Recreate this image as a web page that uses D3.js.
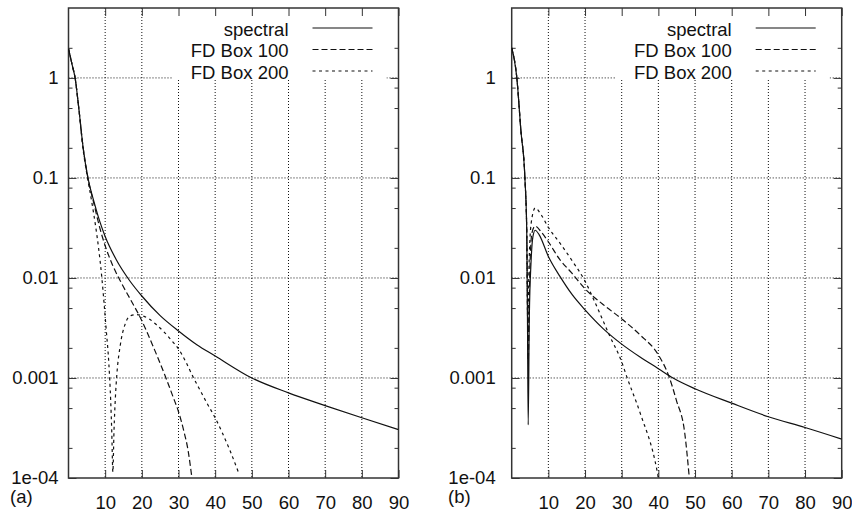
<!DOCTYPE html>
<html>
<head>
<meta charset="utf-8">
<script src="https://cdn.jsdelivr.net/npm/d3@7"></script>
<style>
body { margin: 0; background: #fff; }
svg { font-family: "Liberation Sans", Arial, sans-serif; }
</style>
</head>
<body>
<div id="chart"></div>
<script>
const FWIDTH = 852, FHEIGHT = 513;
const PANEL = { TOP: 8, BOTTOM: 478, WIDTH: 330 };
const PANEL_LEFT = [68.5, 511.7];
const LABEL_PAD = [10, 16];
const LETTER_X = [10, 448];
const FONT = 18.5;

// axes
const xDomain = [0, 90];
const yDomain = [1e-4, 5];
const xTicks = [10, 20, 30, 40, 50, 60, 70, 80, 90];
const xGrid = [10, 20, 30, 40, 50, 60, 70, 80];
const yTicks = [1e-4, 1e-3, 1e-2, 1e-1, 1];
const yTickLabels = ["1e-04", "0.001", "0.01", "0.1", "1"];
const yGrid = [1e-3, 1e-2, 1e-1, 1];
const yMinorMant = [2, 5, 8];
const legendLabels = ["spectral", "FD Box 100", "FD Box 200"];
const panelLabels = ["(a)", "(b)"];

// panel (a)
const spectralA = [[0, 1.95], [1, 1.35], [1.8, 1.0], [2.8, 0.5], [4, 0.2], [5.3, 0.1], [7, 0.057],
	[8.5, 0.037], [10, 0.026], [13, 0.0153], [16.5, 0.0096], [20, 0.0066], [25, 0.0042],
	[30, 0.00295], [35, 0.00215], [40, 0.00166], [50, 0.001], [60, 0.00071], [70, 0.00053],
	[80, 0.0004], [90, 0.000305]];
const fd100A = [[0, 1.95], [1, 1.35], [1.8, 1.0], [2.8, 0.5], [4, 0.2], [5.3, 0.1], [7, 0.054],
	[8.5, 0.032], [10, 0.021], [12, 0.0135], [14.5, 0.0088], [17, 0.006], [19.6, 0.004],
	[23, 0.0021], [26.4, 0.00104], [28.5, 0.00065], [30, 0.00046], [31.5, 0.00029],
	[32.6, 0.00019], [33.6, 0.000104]];
const fd200A = [[0, 1.95], [1, 1.35], [1.8, 1.0], [2.8, 0.5], [4, 0.19], [5, 0.11], [6.4, 0.056],
	[7.5, 0.031], [8.2, 0.02], [9.1, 0.01], [9.7, 0.0056], [10.3, 0.003], [11, 0.0014],
	[11.5, 0.0006], [11.8, 0.00029], [12.1, 0.000115], [12.4, 0.00029], [12.8, 0.00065],
	[13.2, 0.0011], [14.1, 0.0021], [15.5, 0.0035], [17, 0.0042], [18.5, 0.0043], [20, 0.0042],
	[22, 0.0039], [24, 0.0034], [26, 0.0029], [28, 0.0024], [30, 0.00195], [32, 0.00145],
	[34, 0.00102], [36, 0.00074], [38, 0.00054], [40, 0.0004], [42, 0.00028], [44, 0.00019],
	[46.5, 0.00011]];

// panel (b)
const spectralB = [[0, 2], [1.4, 1], [2.5, 0.3], [3.6, 0.1], [4.1, 0.03], [4.3, 0.004],
	[4.5, 0.00034], [4.8, 0.004], [5.3, 0.015], [5.8, 0.026], [6.4, 0.03], [7.5, 0.027],
	[10, 0.0164], [13.2, 0.0103], [16.5, 0.0068], [20, 0.0048], [25, 0.0031], [30, 0.00218],
	[35, 0.00162], [40, 0.00124], [44, 0.001], [50, 0.00078], [60, 0.00056], [70, 0.00041],
	[80, 0.00032], [90, 0.000245]];
const fd100B = [[0, 2], [1.4, 1], [2.5, 0.3], [3.6, 0.1], [4.1, 0.03], [4.5, 0.0015],
	[4.9, 0.01], [5.5, 0.028], [6.4, 0.033], [8, 0.029], [10, 0.023], [13, 0.0155],
	[16.3, 0.0113], [20, 0.0078], [25, 0.0054], [30, 0.0039], [35, 0.0027], [40, 0.0017],
	[42.7, 0.00108], [44.9, 0.0006], [47.2, 0.00028], [48.4, 0.000104]];
const fd200B = [[0, 2], [1.4, 1], [2.5, 0.3], [3.6, 0.1], [4.1, 0.03], [4.4, 0.003],
	[4.7, 0.012], [5.3, 0.035], [6.4, 0.05], [8, 0.043], [10, 0.032], [13.2, 0.0222],
	[16.3, 0.0152], [20, 0.0093], [23.2, 0.0052], [26.8, 0.0026], [30, 0.00145], [31.3, 0.00105],
	[35, 0.00045], [39.6, 0.00012], [40, 0.0001]];

const panels = [[spectralA, fd100A, fd200A], [spectralB, fd100B, fd200B]];
const dashes = [null, "6,3", "3,3.5"];

const svg = d3.select("#chart").append("svg")
	.attr("width", FWIDTH)
	.attr("height", FHEIGHT);

const H = PANEL.BOTTOM - PANEL.TOP;

panels.forEach((series, p) => {
	const g = svg.append("g")
		.attr("transform", `translate(${PANEL_LEFT[p]}, ${PANEL.TOP})`);

	const x = d3.scaleLinear().domain(xDomain).range([0, PANEL.WIDTH]);
	const y = d3.scaleLog().domain(yDomain).range([H, 0]);

	// grid
	g.append("g").selectAll("line").data(xGrid).enter().append("line")
		.attr("x1", d => x(d)).attr("x2", d => x(d))
		.attr("y1", 0).attr("y2", H)
		.attr("stroke", "#111").attr("stroke-dasharray", "1,2");
	g.append("g").selectAll("line").data(yGrid).enter().append("line")
		.attr("x1", 0).attr("x2", PANEL.WIDTH)
		.attr("y1", d => y(d)).attr("y2", d => y(d))
		.attr("stroke", "#111").attr("stroke-dasharray", "1,2");

	// legend background hides the grid
	g.append("rect")
		.attr("x", 104).attr("y", 0)
		.attr("width", 214).attr("height", 72)
		.attr("fill", "#fff");

	const minor = [];
	yTicks.forEach(t => yMinorMant.forEach(m => { if (m * t < 4.9) minor.push(m * t); }));

	const clean = sel => { sel.select(".domain").remove(); sel.selectAll("line").attr("stroke", "#333"); };

	g.append("g")
		.attr("transform", `translate(0, ${H})`)
		.call(d3.axisBottom(x).tickValues(xTicks).tickSizeInner(-8).tickSizeOuter(0).tickPadding(18))
		.call(clean)
		.selectAll("text").attr("font-size", FONT).attr("fill", "#111").attr("font-family", null);
	g.append("g")
		.call(d3.axisTop(x).tickValues(xTicks).tickSizeInner(-8).tickSizeOuter(0).tickFormat(""))
		.call(clean);
	g.append("g")
		.call(d3.axisLeft(y).tickValues(yTicks).tickFormat((d, i) => yTickLabels[i])
			.tickSizeInner(-8).tickSizeOuter(0).tickPadding(LABEL_PAD[p]))
		.call(clean)
		.selectAll("text").attr("font-size", FONT).attr("fill", "#111").attr("font-family", null);
	g.append("g")
		.attr("transform", `translate(${PANEL.WIDTH}, 0)`)
		.call(d3.axisRight(y).tickValues(yTicks).tickSizeInner(-8).tickSizeOuter(0).tickFormat(""))
		.call(clean);
	g.append("g")
		.call(d3.axisLeft(y).tickValues(minor).tickSizeInner(-4).tickSizeOuter(0).tickFormat(""))
		.call(clean);
	g.append("g")
		.attr("transform", `translate(${PANEL.WIDTH}, 0)`)
		.call(d3.axisRight(y).tickValues(minor).tickSizeInner(-4).tickSizeOuter(0).tickFormat(""))
		.call(clean);

	// frame
	g.append("rect")
		.attr("width", PANEL.WIDTH).attr("height", H)
		.attr("fill", "none").attr("stroke", "#333").attr("stroke-width", 1.5);

	// curves
	g.append("clipPath").attr("id", "clip" + p)
		.append("rect").attr("width", PANEL.WIDTH).attr("height", H);

	const line = d3.line()
		.x(d => x(d[0]))
		.y(d => y(d[1]))
		.curve(d3.curveMonotoneX);

	series.forEach((s, i) => {
		g.append("path")
			.datum(s)
			.attr("clip-path", `url(#clip${p})`)
			.attr("d", line)
			.attr("fill", "none")
			.attr("stroke", "#111")
			.attr("stroke-width", 1.2)
			.attr("stroke-dasharray", dashes[i]);
	});

	// legend
	const legend = g.append("g").attr("class", "legend");
	legendLabels.forEach((lab, i) => {
		const by = 27.5 + i * 21.5;
		legend.append("text")
			.attr("x", 220).attr("y", by)
			.attr("text-anchor", "end")
			.attr("font-size", FONT)
			.attr("fill", "#111")
			.text(lab);
		legend.append("line")
			.attr("x1", 244).attr("x2", 304)
			.attr("y1", by - 7.5).attr("y2", by - 7.5)
			.attr("stroke", "#111").attr("stroke-width", 1.2)
			.attr("stroke-dasharray", dashes[i]);
	});

	svg.append("text")
		.attr("x", LETTER_X[p]).attr("y", 503)
		.attr("font-size", FONT)
		.attr("fill", "#111")
		.text(panelLabels[p]);
});
</script>
</body>
</html>
